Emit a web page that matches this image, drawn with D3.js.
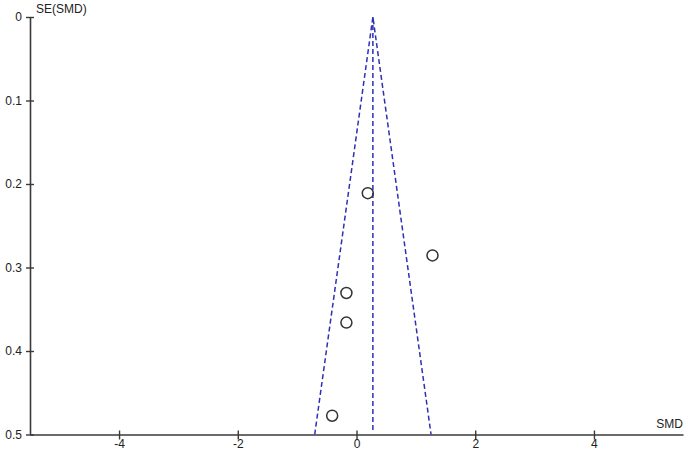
<!DOCTYPE html>
<html>
<head>
<meta charset="utf-8">
<script src="https://cdn.jsdelivr.net/npm/d3@7"></script>
<style>
  body { margin: 0; background: #fff; }
  text { font-family: "Liberation Sans", Arial, sans-serif; font-size: 12px; fill: #222; }
</style>
</head>
<body>
<script>
// funnel plot, SE(SMD) against SMD
var smd = [0.19, 1.28, -0.17, -0.17, -0.41];
var se = [0.211, 0.2855, 0.3305, 0.366, 0.4775];
var pooled = 0.276;
var xTicks = [-4, -2, 0, 2, 4];
var yTicks = [0, 0.1, 0.2, 0.3, 0.4, 0.5];

var w = 688, h = 455;

var x = d3.scaleLinear().domain([-5.5, 5.5]).range([30, 683]);
var y = d3.scaleLinear().domain([0, 0.5]).range([17, 434.5]);

var svg = d3.select("body").append("svg")
  .attr("width", w)
  .attr("height", h);

var axisCol = "#3a3a3a";

// y axis
var yAxis = svg.append("g").attr("transform", "translate(" + x(-5.5) + ",0)")
  .call(d3.axisLeft(y).tickValues(yTicks).tickFormat(function(d){ return String(d); })
    .tickSizeInner(4).tickSizeOuter(0).tickPadding(4));
yAxis.selectAll(".tick line").attr("x2", 4).attr("x1", -4);

// x axis, plain hyphen for negatives like the original
var xAxis = svg.append("g").attr("transform", "translate(0," + y(0.5) + ")")
  .call(d3.axisBottom(x).tickValues(xTicks).tickFormat(function(d){ return String(d); })
    .tickSizeInner(4).tickSizeOuter(0).tickPadding(1));
xAxis.selectAll(".tick line").attr("y1", -4).attr("y2", 5);

svg.selectAll(".domain").attr("stroke", axisCol).attr("stroke-width", 1.6);
svg.selectAll(".tick line").attr("stroke", axisCol).attr("stroke-width", 1.4);
svg.selectAll(".tick text").style("font-family", "'Liberation Sans', Arial, sans-serif")
  .style("font-size", "12px").attr("fill", "#222");

// axis titles
svg.append("text").attr("x", 36).attr("y", 13).text("SE(SMD)");
svg.append("text").attr("x", 683).attr("y", 428).attr("text-anchor", "end").text("SMD");

// funnel: pseudo 95% limits
var blue = "#2f2fb5";
var seMax = 0.5;
var funnel = [
  [pooled - 1.96 * seMax, seMax],
  [pooled, 0],
  [pooled + 1.96 * seMax, seMax]
];
var line = d3.line().x(function(d){ return x(d[0]); }).y(function(d){ return y(d[1]); });

svg.append("path")
  .attr("d", line(funnel))
  .attr("fill", "none")
  .attr("stroke", blue)
  .attr("stroke-width", 1.5)
  .attr("stroke-dasharray", "5,3");

svg.append("line")
  .attr("x1", x(pooled)).attr("x2", x(pooled))
  .attr("y1", y(0)).attr("y2", y(0.5) - 2)
  .attr("stroke", blue)
  .attr("stroke-width", 1.5)
  .attr("stroke-dasharray", "5,3");

// studies
svg.selectAll("circle.study")
  .data(smd)
  .enter().append("circle")
    .attr("class", "study")
    .attr("cx", function(d){ return x(d); })
    .attr("cy", function(d, i){ return y(se[i]); })
    .attr("r", 5.5)
    .attr("fill", "none")
    .attr("stroke", "#333")
    .attr("stroke-width", 1.5);
</script>
</body>
</html>
